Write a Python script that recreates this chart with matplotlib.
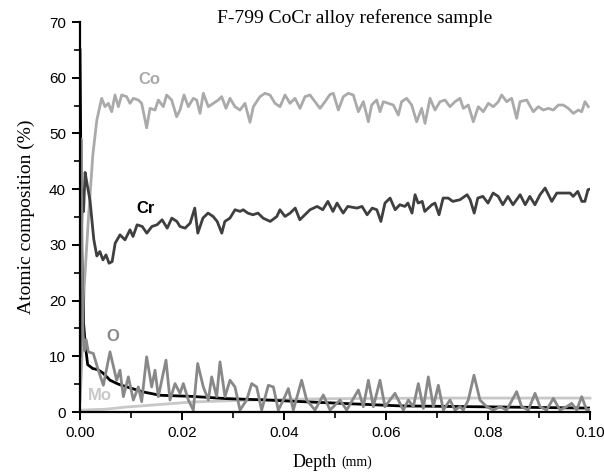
import matplotlib
matplotlib.use("Agg")
import matplotlib.pyplot as plt
from matplotlib.ticker import MultipleLocator, FormatStrFormatter

# ---------------- data (depth in mm, atomic %) ----------------
co_depth = [0.0, 0.0003, 0.0008, 0.0016, 0.0025, 0.0033, 0.00425, 0.0049, 0.00556, 0.00621,
            0.00686, 0.00752, 0.00817, 0.00915, 0.0098, 0.01046, 0.01144, 0.01209, 0.01307,
            0.01373, 0.01471, 0.01536, 0.01634, 0.01699, 0.01797, 0.01895, 0.01961, 0.02039,
            0.02124, 0.02222, 0.02288, 0.02353, 0.02418, 0.02516, 0.02614, 0.02712, 0.02778,
            0.02863, 0.02941, 0.03039, 0.03137, 0.03235, 0.03333, 0.03399, 0.03529, 0.03627,
            0.03725, 0.03824, 0.03922, 0.0402, 0.04118, 0.04216, 0.04314, 0.04412, 0.0451,
            0.04608, 0.04706, 0.04804, 0.04902, 0.04967, 0.05065, 0.05163, 0.05261, 0.05359,
            0.05458, 0.05556, 0.05654, 0.05719, 0.05817, 0.05882, 0.05948, 0.06046, 0.06144,
            0.06242, 0.06307, 0.06405, 0.06503, 0.06601, 0.06699, 0.06765, 0.06863, 0.06961,
            0.07059, 0.07157, 0.07255, 0.07353, 0.07451, 0.07516, 0.07614, 0.07712, 0.0781,
            0.07908, 0.08007, 0.08105, 0.08203, 0.08268, 0.08366, 0.08464, 0.08562, 0.08627,
            0.08758, 0.08889, 0.08987, 0.09085, 0.09183, 0.09281, 0.09379, 0.09477, 0.09575,
            0.09673, 0.09771, 0.09837, 0.09902, 0.09967]
co_vals = [2.0, 8.0, 22.0, 34.0, 46.0, 52.4, 56.3, 54.8, 55.4, 53.9,
           56.9, 54.8, 56.9, 56.6, 55.4, 56.3, 56.0, 55.4, 51.0,
           54.5, 54.2, 56.0, 54.8, 56.9, 56.0, 53.0, 54.2, 56.9,
           54.8, 56.3, 56.0, 53.6, 57.2, 54.8, 55.4, 56.0, 56.6,
           54.5, 56.3, 54.8, 54.2, 55.4, 52.0, 54.8, 56.6, 57.2,
           56.9, 55.4, 54.8, 56.9, 55.4, 56.3, 54.5, 56.6, 56.9,
           55.7, 54.5, 55.7, 57.0, 57.2, 54.2, 56.6, 57.2, 56.9,
           53.9, 55.7, 52.1, 55.1, 56.0, 53.9, 55.7, 55.4, 55.1,
           53.3, 55.7, 56.3, 55.1, 52.1, 54.5, 51.8, 56.3, 54.2,
           55.7, 56.0, 54.8, 55.7, 56.3, 54.5, 55.1, 52.1, 54.8,
           53.9, 55.4, 54.8, 55.7, 56.9, 55.7, 56.3, 52.7, 55.7,
           56.0, 53.9, 54.8, 54.2, 54.5, 54.2, 55.1, 55.1, 54.5,
           53.6, 54.2, 53.9, 55.7, 54.8]

cr_depth = [0.0, 0.0003, 0.0005, 0.0007, 0.001, 0.00137, 0.00196, 0.0027, 0.0033, 0.0039,
            0.0045, 0.0051, 0.0057, 0.0063, 0.0069, 0.00784, 0.00882, 0.0098, 0.0104, 0.0112,
            0.0122, 0.0131, 0.0141, 0.0151, 0.0161, 0.0171, 0.0180, 0.0190, 0.0196, 0.0206,
            0.0216, 0.0225, 0.0231, 0.0241, 0.0251, 0.0261, 0.0269, 0.0278, 0.0284, 0.0294,
            0.0304, 0.0314, 0.0320, 0.0329, 0.0339, 0.0349, 0.0359, 0.0373, 0.0386, 0.0392,
            0.0402, 0.0412, 0.0422, 0.0431, 0.0441, 0.0451, 0.0465, 0.0476, 0.0486, 0.0496,
            0.0504, 0.0516, 0.0525, 0.0543, 0.0553, 0.0563, 0.0573, 0.0582, 0.0590, 0.0598,
            0.0608, 0.0618, 0.0627, 0.0637, 0.0643, 0.0651, 0.0657, 0.0663, 0.0671, 0.0676,
            0.0690, 0.0696, 0.0704, 0.0712, 0.0722, 0.0731, 0.0745, 0.0759, 0.0765, 0.0773,
            0.0780, 0.0790, 0.0800, 0.0810, 0.0820, 0.0829, 0.0839, 0.0849, 0.0863, 0.0873,
            0.0882, 0.0892, 0.0902, 0.0912, 0.0925, 0.0935, 0.0947, 0.0961, 0.0967, 0.0976,
            0.0984, 0.0990, 0.0996, 0.1000]
cr_vals = [10.0, 33.0, 40.0, 36.0, 43.0, 41.0, 38.0, 31.0, 28.0, 28.8,
           27.3, 28.2, 26.7, 27.0, 30.3, 31.8, 30.9, 32.7, 31.5, 33.6,
           33.3, 32.1, 33.3, 33.6, 34.5, 33.0, 34.8, 34.2, 33.3, 33.0,
           33.9, 36.6, 32.1, 34.8, 35.7, 35.1, 34.2, 32.1, 34.2, 34.8,
           36.3, 36.0, 36.3, 35.7, 35.4, 35.7, 34.8, 34.2, 35.1, 36.3,
           35.1, 35.7, 36.6, 34.5, 35.4, 36.3, 36.9, 36.3, 37.8, 36.0,
           37.5, 35.7, 36.9, 36.6, 36.9, 35.4, 36.6, 36.3, 34.2, 37.5,
           38.4, 36.3, 37.2, 36.9, 37.5, 35.7, 39.0, 37.5, 37.8, 36.0,
           37.2, 37.5, 35.4, 38.4, 38.4, 37.8, 38.1, 39.0, 38.1, 35.7,
           38.4, 38.7, 37.5, 39.3, 38.7, 37.2, 38.7, 37.2, 39.0, 37.2,
           38.7, 37.2, 39.0, 40.2, 37.8, 39.3, 39.3, 39.3, 38.7, 39.6,
           37.8, 37.8, 39.9, 40.0]

o_depth = [0.0, 0.0002, 0.0004, 0.0006, 0.0009, 0.0012, 0.00163, 0.00261, 0.00359, 0.00458,
           0.00588, 0.00719, 0.00784, 0.0085, 0.00948, 0.01046, 0.01144, 0.01209, 0.01307,
           0.01405, 0.01471, 0.01536, 0.01686, 0.01765, 0.01863, 0.01961, 0.02026, 0.02124,
           0.02222, 0.02307, 0.02418, 0.02516, 0.02582, 0.0268, 0.02745, 0.02843, 0.02941,
           0.03039, 0.03137, 0.03268, 0.03366, 0.03464, 0.03562, 0.03693, 0.03791, 0.03889,
           0.03987, 0.04085, 0.04183, 0.04346, 0.04444, 0.04608, 0.04771, 0.04902, 0.05098,
           0.05229, 0.05458, 0.05556, 0.05654, 0.05752, 0.05882, 0.0598, 0.06176, 0.0634,
           0.06438, 0.06536, 0.06634, 0.06732, 0.0683, 0.06928, 0.07026, 0.07124, 0.07255,
           0.07353, 0.07451, 0.07516, 0.07614, 0.07725, 0.07843, 0.07974, 0.08105, 0.08235,
           0.08366, 0.08562, 0.0866, 0.08791, 0.08922, 0.0902, 0.0915, 0.09281, 0.09412,
           0.09542, 0.09641, 0.09739, 0.09837, 0.09935, 0.1000]
o_vals = [25.0, 49.0, 30.0, 14.0, 11.0, 13.0, 10.8, 10.5, 7.5, 4.8,
          10.8, 5.7, 7.5, 2.75, 6.3, 2.15, 4.5, 1.85, 9.9,
          4.5, 7.5, 2.75, 9.3, 2.15, 5.1, 3.35, 5.1, 2.15,
          0.35, 8.7, 4.5, 2.15, 6.3, 2.75, 9.0, 2.75, 5.7,
          4.5, 0.35, 2.15, 5.1, 4.5, 0.35, 4.8, 4.5, 0.35,
          2.15, 4.2, 0.35, 5.7, 2.15, 0.35, 3.05, 0.35, 2.15,
          0.35, 3.95, 0.95, 5.7, 0.95, 5.7, 0.95, 3.35, 0.35,
          2.15, 0.95, 5.1, 0.65, 6.3, 0.95, 4.8, 0.35, 2.15,
          0.35, 0.95, 0.35, 2.15, 6.6, 2.15, 0.95, 0.35, 0.95,
          0.35, 3.65, 0.95, 0.35, 3.35, 0.95, 0.35, 2.45, 0.35,
          0.95, 1.55, 0.35, 2.75, 0.35, 0.5]

c_depth = [0.0, 0.0003, 0.0007, 0.001, 0.0015, 0.0025, 0.0035, 0.0045, 0.0059, 0.0075,
           0.0092, 0.0124, 0.0157, 0.022, 0.0288, 0.0353, 0.045, 0.0627, 0.082, 0.1]
c_vals = [65.0, 30.0, 16.0, 12.4, 8.5, 7.8, 7.6, 7.0, 5.7, 5.0,
          4.5, 3.6, 3.0, 2.8, 2.4, 2.2, 1.8, 1.1, 0.9, 0.7]

mo_depth = [0.0, 0.002, 0.005, 0.0092, 0.015, 0.022, 0.0353, 0.05, 0.07, 0.1]
mo_vals = [0.3, 0.4, 0.5, 0.9, 1.3, 1.8, 2.2, 2.4, 2.5, 2.5]

labels = {"Co": (0.0137, 59.6), "Cr": (0.0129, 36.6), "O": (0.0065, 13.6), "Mo": (0.0039, 2.9)}

# ---------------- plot ----------------
fig = plt.figure(figsize=(6.04, 4.75), dpi=100)
ax = fig.add_axes([80/604, (475-412)/475, 510/604, 390/475])

lw = 2.0
c_co, c_cr, c_o, c_mo, c_c = "#aaaaaa", "#3f3f3f", "#888888", "#c8c8c8", "#000000"
ax.plot(mo_depth, mo_vals, color=c_mo, lw=lw, clip_on=False)
ax.plot(co_depth, co_vals, color=c_co, lw=lw)
ax.plot(cr_depth, cr_vals, color=c_cr, lw=lw)
ax.plot(c_depth, c_vals, color=c_c, lw=lw)
ax.plot(o_depth, o_vals, color=c_o, lw=lw)

lab_col = {"Co": c_co, "Cr": "#000000", "O": c_o, "Mo": c_mo}
for name, (x, y) in labels.items():
    ax.text(x, y, name, color=lab_col[name], fontsize=12, fontweight="bold",
            family="Liberation Sans", ha="center", va="center")

ax.set_xlim(0, 0.1)
ax.set_ylim(0, 70)
ax.xaxis.set_major_locator(MultipleLocator(0.02))
ax.xaxis.set_minor_locator(MultipleLocator(0.01))
ax.yaxis.set_major_locator(MultipleLocator(10))
ax.yaxis.set_minor_locator(MultipleLocator(5))
ax.xaxis.set_major_formatter(FormatStrFormatter("%.2f"))

for s in ["top", "right"]:
    ax.spines[s].set_visible(False)
for s in ["left", "bottom"]:
    ax.spines[s].set_linewidth(1.6)
ax.tick_params(which="major", direction="out", length=6, width=1.4, labelsize=11, pad=4)
ax.tick_params(which="minor", direction="out", length=4, width=1.2)
for lbl in ax.get_xticklabels() + ax.get_yticklabels():
    lbl.set_family("Liberation Sans")

ax.set_ylabel("Atomic composition (%)", family="Liberation Serif", fontsize=14, labelpad=10)
ax.text(0.504, -0.13, "Depth", transform=ax.transAxes, family="Liberation Serif",
        fontsize=13, ha="right", va="center")
ax.text(0.512, -0.13, "(mm)", transform=ax.transAxes, family="Liberation Serif",
        fontsize=10, ha="left", va="center")

fig.text(355/604, 1 - 18/475, "F-799 CoCr alloy reference sample", family="Liberation Serif",
         fontsize=14, ha="center", va="center")

fig.savefig("out.png", dpi=100)
